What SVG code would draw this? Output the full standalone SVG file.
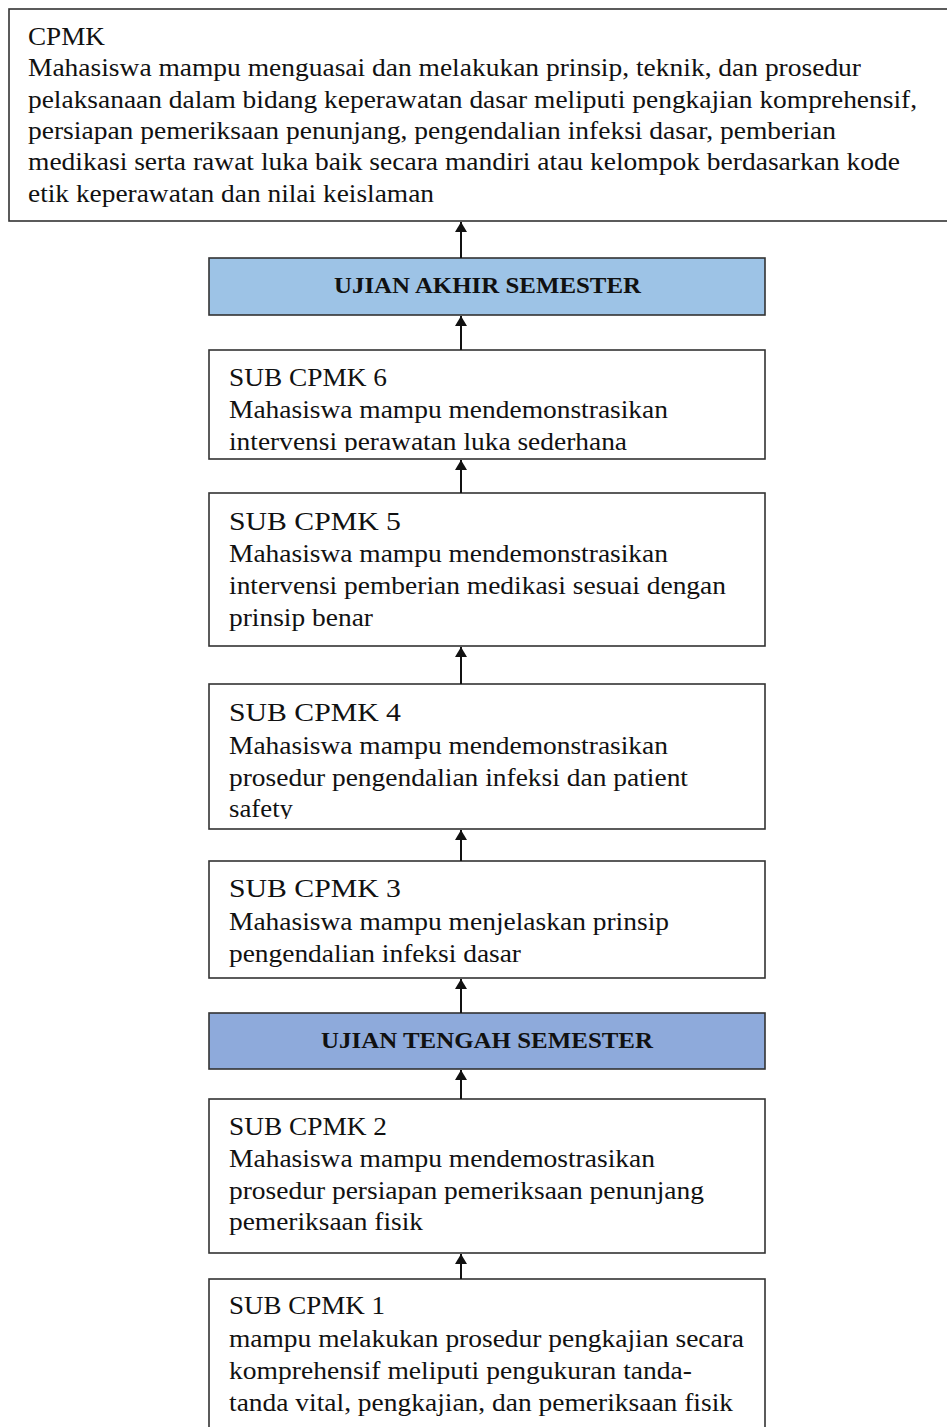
<svg xmlns="http://www.w3.org/2000/svg" width="947" height="1427" viewBox="0 0 947 1427">
<style>
.box{fill:#fff;stroke:#333;stroke-width:1.6}
.uas{fill:#9dc3e6;stroke:#333;stroke-width:1.6}
.uts{fill:#8eaadb;stroke:#333;stroke-width:1.6}
.t{font-family:"Liberation Serif","Times New Roman",serif;font-size:26px;fill:#111}
.c{font-family:"Liberation Serif","Times New Roman",serif;font-size:25px;fill:#111}
.b{font-family:"Liberation Serif","Times New Roman",serif;font-size:23px;font-weight:bold;fill:#111;text-anchor:middle}
.conn{stroke:#111;stroke-width:2;fill:none;marker-end:url(#ah)}
</style>
<defs>
<marker id="ah" viewBox="0 0 10 12" refX="10" refY="6" markerWidth="10" markerHeight="12" markerUnits="userSpaceOnUse" orient="auto">
<path d="M0,0 L10,6 L0,12 z" fill="#111"/>
</marker>
<clipPath id="c6"><rect x="210" y="351" width="554" height="101"/></clipPath>
<clipPath id="c4"><rect x="210" y="685" width="554" height="134"/></clipPath>
</defs>
<rect width="947" height="1427" fill="#fff"/>
<g id="cpmk">
<rect class="box" x="9" y="9" width="950" height="212"/>
<text class="c" x="28" y="45" textLength="77" lengthAdjust="spacingAndGlyphs">CPMK</text>
<text class="c" x="28" y="76" textLength="833" lengthAdjust="spacingAndGlyphs">Mahasiswa mampu menguasai dan melakukan prinsip, teknik, dan prosedur</text>
<text class="c" x="28" y="108" textLength="889" lengthAdjust="spacingAndGlyphs">pelaksanaan dalam bidang keperawatan dasar meliputi pengkajian komprehensif,</text>
<text class="c" x="28" y="139" textLength="808" lengthAdjust="spacingAndGlyphs">persiapan pemeriksaan penunjang, pengendalian infeksi dasar, pemberian</text>
<text class="c" x="28" y="170" textLength="872" lengthAdjust="spacingAndGlyphs">medikasi serta rawat luka baik secara mandiri atau kelompok berdasarkan kode</text>
<text class="c" x="28" y="202" textLength="406" lengthAdjust="spacingAndGlyphs">etik keperawatan dan nilai keislaman</text>
</g>
<g id="uas">
<rect class="uas" x="209" y="258" width="556" height="57"/>
<text class="b" x="487.5" y="293" textLength="307" lengthAdjust="spacingAndGlyphs">UJIAN AKHIR SEMESTER</text>
</g>
<g id="sub6">
<rect class="box" x="209" y="350" width="556" height="109"/>
<g clip-path="url(#c6)">
<text class="t" x="229" y="386" textLength="158" lengthAdjust="spacingAndGlyphs">SUB CPMK 6</text>
<text class="t" x="229" y="418" textLength="439" lengthAdjust="spacingAndGlyphs">Mahasiswa mampu mendemonstrasikan</text>
<text class="t" x="229" y="450" textLength="398" lengthAdjust="spacingAndGlyphs">intervensi perawatan luka sederhana</text>
</g>
</g>
<g id="sub5">
<rect class="box" x="209" y="493" width="556" height="153"/>
<text class="t" x="229" y="530" textLength="172" lengthAdjust="spacingAndGlyphs">SUB CPMK 5</text>
<text class="t" x="229" y="562" textLength="439" lengthAdjust="spacingAndGlyphs">Mahasiswa mampu mendemonstrasikan</text>
<text class="t" x="229" y="594" textLength="497" lengthAdjust="spacingAndGlyphs">intervensi pemberian medikasi sesuai dengan</text>
<text class="t" x="229" y="626" textLength="144" lengthAdjust="spacingAndGlyphs">prinsip benar</text>
</g>
<g id="sub4">
<rect class="box" x="209" y="684" width="556" height="145"/>
<g clip-path="url(#c4)">
<text class="t" x="229" y="721" textLength="172" lengthAdjust="spacingAndGlyphs">SUB CPMK 4</text>
<text class="t" x="229" y="754" textLength="439" lengthAdjust="spacingAndGlyphs">Mahasiswa mampu mendemonstrasikan</text>
<text class="t" x="229" y="786" textLength="459" lengthAdjust="spacingAndGlyphs">prosedur pengendalian infeksi dan patient</text>
<text class="t" x="229" y="817" textLength="64" lengthAdjust="spacingAndGlyphs">safety</text>
</g>
</g>
<g id="sub3">
<rect class="box" x="209" y="861" width="556" height="117"/>
<text class="t" x="229" y="897" textLength="172" lengthAdjust="spacingAndGlyphs">SUB CPMK 3</text>
<text class="t" x="229" y="930" textLength="440" lengthAdjust="spacingAndGlyphs">Mahasiswa mampu menjelaskan prinsip</text>
<text class="t" x="229" y="962" textLength="292" lengthAdjust="spacingAndGlyphs">pengendalian infeksi dasar</text>
</g>
<g id="uts">
<rect class="uts" x="209" y="1013" width="556" height="56"/>
<text class="b" x="487" y="1048" textLength="332" lengthAdjust="spacingAndGlyphs">UJIAN TENGAH SEMESTER</text>
</g>
<g id="sub2">
<rect class="box" x="209" y="1099" width="556" height="154"/>
<text class="t" x="229" y="1135" textLength="158" lengthAdjust="spacingAndGlyphs">SUB CPMK 2</text>
<text class="t" x="229" y="1167" textLength="426" lengthAdjust="spacingAndGlyphs">Mahasiswa mampu mendemostrasikan</text>
<text class="t" x="229" y="1199" textLength="475" lengthAdjust="spacingAndGlyphs">prosedur persiapan pemeriksaan penunjang</text>
<text class="t" x="229" y="1230" textLength="194" lengthAdjust="spacingAndGlyphs">pemeriksaan fisik</text>
</g>
<g id="sub1">
<rect class="box" x="209" y="1279" width="556" height="160"/>
<text class="t" x="229" y="1314" textLength="156" lengthAdjust="spacingAndGlyphs">SUB CPMK 1</text>
<text class="t" x="229" y="1347" textLength="515" lengthAdjust="spacingAndGlyphs">mampu melakukan prosedur pengkajian secara</text>
<text class="t" x="229" y="1379" textLength="463" lengthAdjust="spacingAndGlyphs">komprehensif meliputi pengukuran tanda-</text>
<text class="t" x="229" y="1411" textLength="504" lengthAdjust="spacingAndGlyphs">tanda vital, pengkajian, dan pemeriksaan fisik</text>
</g>
<g id="connectors">
<line class="conn" x1="461" y1="258" x2="461" y2="222"/>
<line class="conn" x1="461" y1="350" x2="461" y2="316"/>
<line class="conn" x1="461" y1="493" x2="461" y2="460"/>
<line class="conn" x1="461" y1="684" x2="461" y2="647"/>
<line class="conn" x1="461" y1="861" x2="461" y2="830"/>
<line class="conn" x1="461" y1="1013" x2="461" y2="979"/>
<line class="conn" x1="461" y1="1099" x2="461" y2="1070"/>
<line class="conn" x1="461" y1="1279" x2="461" y2="1254"/>
</g>
</svg>
